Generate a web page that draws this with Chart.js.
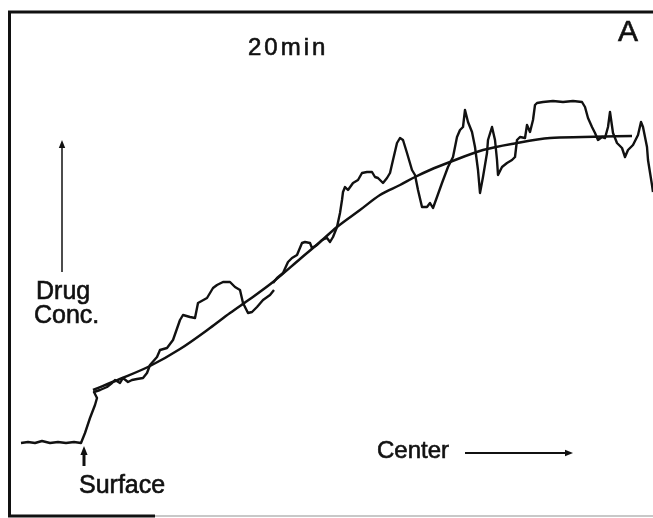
<!DOCTYPE html>
<html>
<head>
<meta charset="utf-8">
<script src="https://cdn.jsdelivr.net/npm/chart.js@4/dist/chart.umd.min.js"></script>
<style>
  body { margin: 0; background: #fff; }
  #wrap { width: 653px; height: 518px; }
</style>
</head>
<body>
<div id="wrap"><canvas id="chart" width="653" height="518"></canvas></div>
<script>
// measured trace (depth, drug conc.) - arbitrary units
const traceDepth = [21, 28, 35, 42, 50, 58, 66, 74, 81, 85, 90, 95, 97, 94, 100, 107, 112, 115, 120, 123, 128, 132, 137, 143, 147,
    150, 157, 160, 167, 173, 180, 183, 190, 195, 198, 207, 213, 217, 223, 230, 235, 240, 243, 248, 252, 257, 263, 270, 274,
    273, 273, 277, 283, 288, 292, 297, 302, 305, 310, 312, 317, 322, 327, 330, 333, 337, 340, 342, 343, 345, 348, 353, 358,
    362, 367, 372, 375, 378, 383, 387, 390, 393, 397, 400, 403, 407, 412, 415, 418, 422, 427, 430, 433, 437, 442, 448, 453,
    457, 460, 463, 465, 468, 472, 475, 478, 480, 483, 487, 488, 492, 495, 497, 498, 502, 507, 512, 515, 517, 520, 525, 527,
    530, 533, 535, 537, 543, 553, 563, 573, 582, 585, 588, 592, 595, 598, 602, 605, 608, 610, 613, 617, 622, 625, 628, 633,
    638, 641, 643, 647, 648, 652, 653];
const traceConc = [75, 76, 75, 77, 75, 76, 75, 76, 75, 85, 100, 113, 120, 126, 128, 131, 135, 138, 135, 140, 136, 138, 139, 140, 145,
    153, 161, 168, 170, 178, 198, 203, 201, 200, 215, 220, 230, 233, 236, 236, 231, 228, 215, 205, 206, 211, 218, 223, 228,
    null, 235, 240, 245, 256, 260, 263, 275, 276, 275, 270, 273, 278, 280, 276, 281, 291, 305, 318, 326, 331, 328, 335, 338,
    345, 346, 346, 341, 340, 335, 340, 345, 358, 375, 380, 378, 365, 348, 343, 328, 311, 311, 315, 310, 321, 335, 351, 361,
    381, 388, 391, 408, 396, 386, 371, 348, 325, 341, 365, 378, 391, 378, 358, 343, 351, 355, 358, 361, 378, 381, 380, 393,
    386, 398, 413, 415, 416, 417, 416, 417, 416, 411, 400, 391, 385, 378, 381, 380, 391, 406, 385, 375, 370, 361, 368, 373,
    383, 396, 391, 371, 358, 333, 326];

// fitted curve
const fitDepth = [93, 120, 150, 180, 210, 230, 250, 273, 300, 320, 337, 360, 380, 400, 415, 430, 450, 483, 517, 550, 583, 632];
const fitConc = [128, 139, 152, 169, 190, 205, 219, 236, 259, 276, 291, 308, 323, 333, 341, 348, 356, 368, 375, 380, 381, 382];

const ink = "#111";

function pts(xs, ys) {
    return xs.map((x, i) => ({ x: x, y: ys[i] }));
}

function arrow(ctx, x1, y1, x2, y2, width, head) {
    const a = Math.atan2(y2 - y1, x2 - x1);
    ctx.lineWidth = width;
    ctx.beginPath();
    ctx.moveTo(x1, y1);
    ctx.lineTo(x2 - Math.cos(a) * head * 0.8, y2 - Math.sin(a) * head * 0.8);
    ctx.stroke();
    ctx.beginPath();
    ctx.moveTo(x2, y2);
    ctx.lineTo(x2 - Math.cos(a) * head + Math.sin(a) * head * 0.4, y2 - Math.sin(a) * head - Math.cos(a) * head * 0.4);
    ctx.lineTo(x2 - Math.cos(a) * head - Math.sin(a) * head * 0.4, y2 - Math.sin(a) * head + Math.cos(a) * head * 0.4);
    ctx.closePath();
    ctx.fill();
}

// draws text a little heavier, like the printed labels
function label(ctx, text, x, y) {
    ctx.fillText(text, x, y);
    ctx.lineWidth = 0.6;
    ctx.strokeText(text, x, y);
}

// frame, labels and arrows
const decorations = {
    id: "decorations",
    afterDraw(chart) {
        const ctx = chart.ctx;
        ctx.save();
        ctx.strokeStyle = ink;
        ctx.fillStyle = ink;
        ctx.lineCap = "butt";

        // frame
        ctx.lineWidth = 3;
        ctx.beginPath();
        ctx.moveTo(653, 12);
        ctx.lineTo(9.5, 12);
        ctx.lineTo(9.5, 516);
        ctx.lineTo(155, 516);
        ctx.stroke();
        ctx.strokeStyle = "#c8c8c8";
        ctx.lineWidth = 2;
        ctx.beginPath();
        ctx.moveTo(155, 516);
        ctx.lineTo(653, 516);
        ctx.stroke();
        ctx.strokeStyle = ink;

        ctx.textBaseline = "alphabetic";
        ctx.textAlign = "left";
        ctx.font = "24px 'Liberation Sans', Arial, sans-serif";
        ctx.letterSpacing = "3px";
        label(ctx, "20min", 248, 55);
        ctx.letterSpacing = "0px";

        ctx.font = "30px 'Liberation Sans', Arial, sans-serif";
        label(ctx, "A", 618, 41);

        ctx.font = "25px 'Liberation Sans', Arial, sans-serif";
        label(ctx, "Drug", 36, 299);
        label(ctx, "Conc.", 34, 323);
        label(ctx, "Surface", 79, 493);

        ctx.font = "24px 'Liberation Sans', Arial, sans-serif";
        label(ctx, "Center", 377, 458);

        arrow(ctx, 62, 272, 62, 140, 1.5, 8);
        arrow(ctx, 84, 466, 84, 446, 3, 9);
        arrow(ctx, 465, 453, 573, 453, 2, 8);
        ctx.restore();
    }
};

new Chart(document.getElementById("chart"), {
    type: "line",
    data: {
        datasets: [
            {
                label: "Measured",
                data: pts(traceDepth, traceConc),
                borderColor: ink,
                borderWidth: 2.4,
                borderJoinStyle: "round",
                pointRadius: 0,
                tension: 0,
                spanGaps: false
            },
            {
                label: "Fit",
                data: pts(fitDepth, fitConc),
                borderColor: ink,
                borderWidth: 2.5,
                pointRadius: 0,
                cubicInterpolationMode: "monotone"
            }
        ]
    },
    options: {
        responsive: false,
        animation: false,
        layout: { padding: { left: 9, top: 12, right: 0, bottom: 2 } },
        plugins: { legend: { display: false }, tooltip: { enabled: false } },
        scales: {
            x: { type: "linear", min: 9, max: 653, display: false },
            y: { type: "linear", min: 2, max: 506, display: false }
        }
    },
    plugins: [decorations]
});
</script>
</body>
</html>
